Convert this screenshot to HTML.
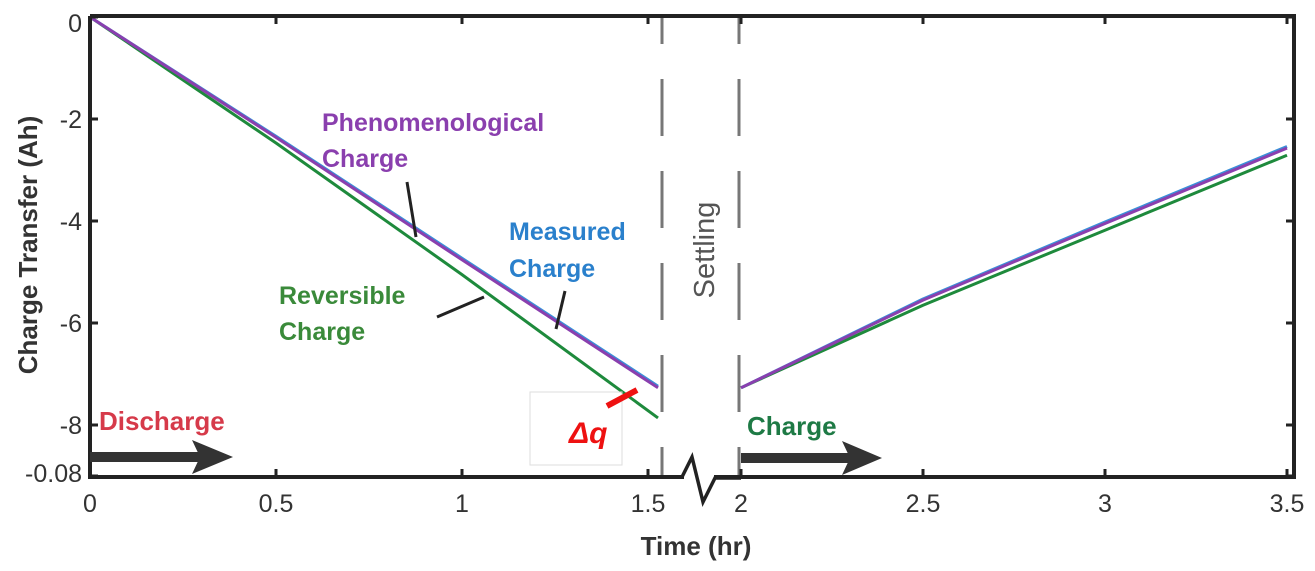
<!DOCTYPE html>
<html><head><meta charset="utf-8"><style>
body{margin:0;background:#fff;}
svg text{font-family:"Liberation Sans",sans-serif;}
</style></head><body>
<svg width="1315" height="571" viewBox="0 0 1315 571" id="chart" style="position:absolute;left:0;top:0">
</svg>
<script>
const xTicks=[0,0.5,1,1.5,2,2.5,3,3.5];
const xTickLabels=["0","0.5","1","1.5","2","2.5","3","3.5"];
const yTicks=[0,-2,-4,-6,-8,-9];
const yTickLabels=["0","-2","-4","-6","-8","-0.08"];
const dischargeTimes=[0,0.5,1,1.527];
const chargeTimes=[2,2.5,3,3.5];
const phenomDischarge=[0,-2.36,-4.76,-7.27];
const measuredDischarge=[0,-2.34,-4.73,-7.24];
const reversibleDischarge=[0,-2.47,-5.05,-7.86];
const phenomCharge=[-7.27,-5.55,-4.05,-2.57];
const measuredCharge=[-7.27,-5.53,-4.02,-2.54];
const reversibleCharge=[-7.27,-5.65,-4.18,-2.71];

const NS="http://www.w3.org/2000/svg";
const svg=document.getElementById('chart');
function X(t){return t<=1.6?90+372*t:741+364*(t-2);}
function Y(v){return 17-51*v;}
function el(tag,attrs,txt){const e=document.createElementNS(NS,tag);for(const k in attrs)e.setAttribute(k,attrs[k]);if(txt!==undefined)e.textContent=txt;svg.appendChild(e);return e;}

function series(ts,vs,color,name,w){
  const pts=ts.map((t,i)=>X(t).toFixed(1)+','+Y(vs[i]).toFixed(1)).join(' ');
  const p=el('polyline',{points:pts,fill:'none',stroke:color,'stroke-width':w,'stroke-linejoin':'round'});
  
  
}
series(dischargeTimes,reversibleDischarge,'#1e8a3c','reversible-discharge-line',3);
series(dischargeTimes,measuredDischarge,'#3a8fd8','measured-discharge-line',3);
series(dischargeTimes,phenomDischarge,'#8a3fae','phenomenological-discharge-line',3);
series(chargeTimes,reversibleCharge,'#1e8a3c','reversible-charge-line',3);
series(chargeTimes,measuredCharge,'#3a8fd8','measured-charge-line',3);
series(chargeTimes,phenomCharge,'#8a3fae','phenomenological-charge-line',3);

[662,739].forEach((x,i)=>{
  const d=el('line',{x1:x,y1:17,x2:x,y2:477,stroke:'#777','stroke-width':3,'stroke-dasharray':'57 35','stroke-dashoffset':'30'});
  
  
});

const box=el('path',{d:'M90,16 H1294 V477 H714 M90,16 V477 H684',fill:'none',stroke:'#222','stroke-width':4});


const zz=el('polyline',{points:'682,477 692,457 703,502 715,478 741,478',fill:'none',stroke:'#222','stroke-width':3.5});



xTicks.forEach((t,i)=>{
  const x=X(t);
  const tk=el('path',{d:`M${x},477 v-8 M${x},16 v8`,stroke:'#222','stroke-width':3});
  
  
  const lb=el('text',{x:x,y:512,'font-size':25,fill:'#333','text-anchor':'middle'},xTickLabels[i]);
  
  
});
yTicks.forEach((v,i)=>{
  const y=Y(v);
  const tk=el('path',{d:`M90,${y} h8 M1294,${y} h-8`,stroke:'#222','stroke-width':3});
  
  
  const ly=i===0?y+15:(i===yTicks.length-1?y+6:y+9);
  const lb=el('text',{x:82,y:ly,'font-size':25,fill:'#333','text-anchor':'end'},yTickLabels[i]);
  
  
});
</script>
<svg width="1315" height="571" style="position:absolute;left:0;top:0">
<g font-family="Liberation Sans, sans-serif" font-weight="bold">
<text transform="translate(37,245) rotate(-90)" text-anchor="middle" font-size="26" fill="#333">Charge Transfer (Ah)</text>
<text x="696" y="555" text-anchor="middle" font-size="26" fill="#333">Time (hr)</text>
<text x="322" y="131" font-size="25" fill="#8a3fae">Phenomenological</text>
<text x="322" y="167" font-size="25" fill="#8a3fae">Charge</text>
<text x="509" y="240" font-size="25" fill="#2a80cc">Measured</text>
<text x="509" y="277" font-size="25" fill="#2a80cc">Charge</text>
<text x="279" y="304" font-size="25" fill="#3a8a3a">Reversible</text>
<text x="279" y="340" font-size="25" fill="#3a8a3a">Charge</text>
<text x="99" y="430" font-size="26" fill="#d63a4a">Discharge</text>
<text x="747" y="435" font-size="26" fill="#1e7a45">Charge</text>
<text transform="translate(714,250) rotate(-90)" text-anchor="middle" font-size="29" font-weight="normal" fill="#555">Settling</text>
<text x="569" y="443" font-size="30" font-style="italic" fill="#ee1111">Δq</text>
</g>
<path d="M407,182 L416,237" stroke="#222" stroke-width="3"/>
<path d="M565,291 L556,329" stroke="#222" stroke-width="3"/>
<path d="M437,317 L484,297" stroke="#222" stroke-width="3"/>
<rect x="530" y="392" width="92" height="73" fill="none" stroke="#ddd" stroke-width="1"/>
<path d="M607,406 L637,390" stroke="#ee1111" stroke-width="6"/>
<g fill="#333">
<rect x="90" y="452" width="110" height="10"/>
<polygon points="192,440 233,457 192,474 200,457"/>
</g>
<g fill="#333">
<rect x="741" y="453" width="110" height="10"/>
<polygon points="842,441 882,458 842,475 850,458"/>
</g>
</svg>
</body></html>
